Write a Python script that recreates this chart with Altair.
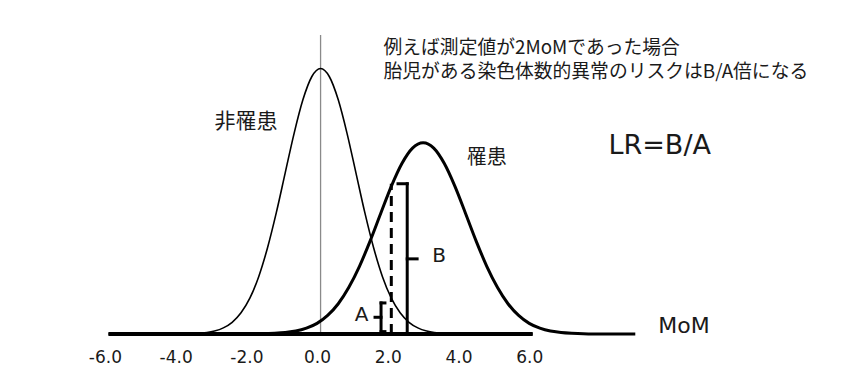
import altair as alt
import pandas as pd

# ---- data ----
# non-affected (非罹患) curve: x in MoM-axis units, relative height (peak = 100)
c1_x = [-6.0, -4.0, -3.5, -3.0, -2.75, -2.5, -2.25, -2.0, -1.75, -1.5, -1.25, -1.0, -0.75, -0.5, -0.25,
        0.0, 0.25, 0.5, 0.75, 1.0, 1.25, 1.5, 1.75, 2.0, 2.25, 2.5, 2.75, 3.0, 3.5, 4.0, 6.0]
c1_y = [0.0, 0.0, 0.2, 1.1, 2.3, 4.4, 8.0, 13.5, 21.6, 32.5, 45.8, 60.7, 75.5, 88.2, 96.9,
        100.0, 96.9, 88.2, 75.5, 60.7, 45.8, 32.5, 21.6, 13.5, 8.0, 4.4, 2.3, 1.1, 0.2, 0.0, 0.0]

# affected (罹患) curve
c2_x = [-3.1, -1.9, -1.3, -1.0, -0.7, -0.4, -0.1, 0.2, 0.5, 0.8, 1.1, 1.4, 1.7, 2.0, 2.3, 2.6,
        2.9, 3.2, 3.5, 3.8, 4.1, 4.4, 4.7, 5.0, 5.3, 5.6, 5.9, 6.2, 6.5, 6.8, 7.1, 7.7, 8.9]
c2_y = [0.0, 0.0, 0.3, 0.6, 1.1, 2.2, 4.0, 7.0, 11.4, 17.6, 25.5, 35.0, 45.4, 55.6, 64.2, 70.0,
        72.0, 70.0, 64.2, 55.6, 45.4, 35.0, 25.5, 17.6, 11.4, 7.0, 4.0, 2.2, 1.1, 0.6, 0.3, 0.0, 0.0]

axis_ticks = [-6, -4, -2, 0, 2, 4, 6]
baseline_range = [-6.0, 6.0]
mean_line_top = 112.6

measure_x = 2.0      # 2 MoM
value_B = 56.6       # affected height at 2 MoM
value_A = 11.7       # non-affected height at 2 MoM

note_lines = ["例えば測定値が2MoMであった場合", "胎児がある染色体数的異常のリスクはB/A倍になる"]
group_labels = ["非罹患", "罹患"]
formula_label = "LR=B/A"
axis_name = "MoM"
bracket_labels = ["A", "B"]

# ---- chart ----
JP = "Noto Sans CJK JP"
LAT = "DejaVu Sans"
INK = "#1a1a1a"

xs = alt.Scale(domain=[-8.5, 15], nice=False, zero=False)
ys = alt.Scale(domain=[0, 122.8], nice=False, zero=False)

X = alt.X("x:Q", scale=xs, axis=alt.Axis(
    values=axis_ticks, format=".1f",
    labelExpr="replace(datum.label, '\u2212', '-')",
    domain=False, ticks=False, tickSize=0, grid=False, title=None,
    labelFont=LAT, labelFontSize=17, labelColor=INK, labelPadding=15,
    labelOffset=-3.5))
Y = alt.Y("y:Q", scale=ys, axis=None)

df1 = pd.DataFrame({"x": c1_x, "y": c1_y})
df2 = pd.DataFrame({"x": c2_x, "y": c2_y})

curve1 = alt.Chart(df1).mark_line(interpolate="monotone", color="black", strokeWidth=1.6).encode(x=X, y=Y)
curve2 = alt.Chart(df2).mark_line(interpolate="monotone", color="black", strokeWidth=3).encode(x=X, y=Y)

# segments: vertical/horizontal rules
bx = measure_x + 0.45
ax_ = measure_x - 0.29
a_lo = 0.9
solid_segs = pd.DataFrame([
    # B bracket
    dict(x=bx, x2=bx, y=0, y2=value_B),
    dict(x=bx - 0.26, x2=bx, y=value_B, y2=value_B),
    dict(x=bx, x2=bx + 0.28, y=value_B / 2, y2=value_B / 2),
    # A bracket
    dict(x=ax_, x2=ax_, y=a_lo, y2=value_A),
    dict(x=ax_, x2=ax_ + 0.11, y=value_A, y2=value_A),
    dict(x=ax_, x2=ax_ + 0.11, y=a_lo, y2=a_lo),
    dict(x=ax_ - 0.17, x2=ax_, y=(value_A + a_lo) / 2, y2=(value_A + a_lo) / 2),
])
base_seg = pd.DataFrame([dict(x=baseline_range[0], x2=baseline_range[1], y=0, y2=0)])
dash_seg = pd.DataFrame([dict(x=measure_x, x2=measure_x, y=0, y2=value_B)])
mean_seg = pd.DataFrame([dict(x=0, x2=0, y=0, y2=mean_line_top)])


def rules(df, **kw):
    return alt.Chart(df).mark_rule(**kw).encode(
        x=X, x2="x2:Q", y=Y, y2="y2:Q")


mean_rule = rules(mean_seg, color="#8a8a8a", strokeWidth=1.3)
base = rules(base_seg, color="black", strokeWidth=4)
dashed = rules(dash_seg, color="black", strokeWidth=3, strokeDash=[10, 6])
brackets = rules(solid_segs, color="black", strokeWidth=3, strokeCap="square")


def label(txt, x, y, size, font=LAT, align="center", **kw):
    return alt.Chart(pd.DataFrame({"t": [txt], "x": [x], "y": [y]})).mark_text(
        font=font, fontSize=size, color=INK, align=align, baseline="middle", **kw).encode(
        x=X, y=Y, text="t:N")


texts = [
    label("\n".join(note_lines), 1.78, 107.6, 18.8, font=JP, align="left",
          lineBreak="\n", lineHeight=23.5),
    label(group_labels[0], -2.11, 80.0, 21, font=JP),
    label(group_labels[1], 4.70, 66.3, 20, font=JP),
    label(formula_label, 9.59, 70.8, 27),
    label(axis_name, 10.28, 3.2, 22),
    label(bracket_labels[0], 1.16, 7.0, 20),
    label(bracket_labels[1], 3.35, 29.4, 20),
]

chart = alt.layer(
    mean_rule, curve1, curve2, base, dashed, brackets, *texts
).properties(
    width=831, height=326,
    padding={"left": 12, "top": 0, "right": 0, "bottom": 40},
    autosize=alt.AutoSizeParams(type="none"),
).configure_view(stroke=None)

chart.save("out.html", embed_options={"renderer": "svg", "actions": False})
